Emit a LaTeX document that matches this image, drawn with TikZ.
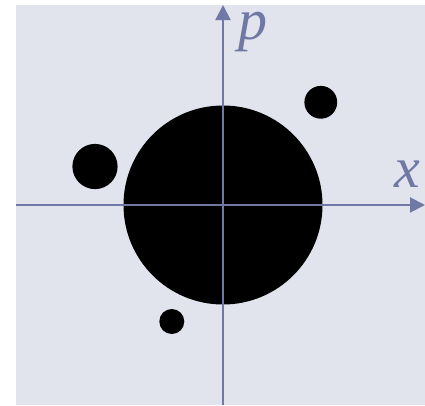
\documentclass[tikz,border=0pt]{standalone}
\usepackage{fontspec}
\newfontfamily\labelfont{Liberation Serif}
\usetikzlibrary{arrows.meta}

\begin{document}
\begin{tikzpicture}[x=1pt, y=1pt]
    % Define colours
    \definecolor{bgColour}{HTML}{E1E4ED}
    \definecolor{axisColour}{HTML}{7079A6}

    % Define label style
    \tikzset{axislabel/.style={text=axisColour, inner sep=0pt, font=\labelfont\itshape\fontsize{58}{60}\selectfont}}

    % Bounding box and background
    \useasboundingbox (-223,-200) rectangle (202,205);
    \fill[bgColour] (-207,-200) rectangle (202,200);

    % Phase space blobs
    \fill[black] (0,0) circle (99.5);
    \fill[black] (-128,38.5) circle (22.6);
    \fill[black] (97.8,102.7) circle (16.4);
    \fill[black] (-51.2,-116.5) circle (12.5);

    % Draw axes
    \coordinate (xStart) at (-207,0);
    \coordinate (xEnd) at (202,0);
    \coordinate (pStart) at (0,-200);
    \coordinate (pEnd) at (0,200);
    \draw[axisColour, line width=2pt, -{Triangle[length=15pt,width=15pt]}] (xStart) -- (xEnd);
    \draw[axisColour, line width=2pt, -{Triangle[length=15pt,width=15pt]}] (pStart) -- (pEnd);

    % Label x-axis and p-axis
    \node[axislabel, anchor=base west] (xLabel) at (171,18) {x};
    \node[axislabel, anchor=base west] (pLabel) at (15,166) {p};
\end{tikzpicture}
\end{document}
